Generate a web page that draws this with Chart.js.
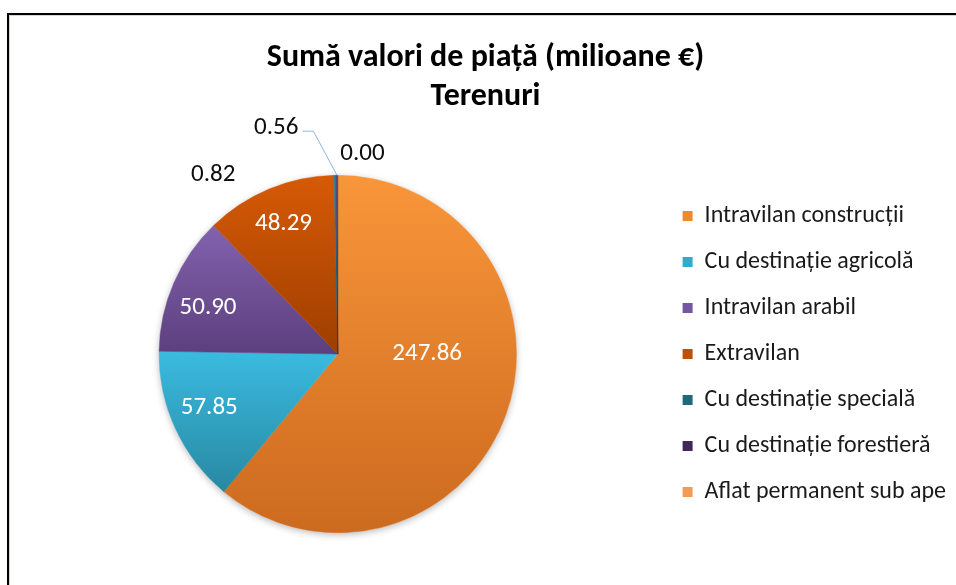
<!DOCTYPE html>
<html>
<head>
<meta charset="utf-8">
<title>Terenuri</title>
<script src="https://cdn.jsdelivr.net/npm/chart.js@4.4.1/dist/chart.umd.min.js"></script>
<style>
  html, body { margin: 0; padding: 0; background: #fff; }
  #wrap { position: relative; width: 956px; height: 585px; overflow: hidden; }
  #frame {
    position: absolute; left: 7px; top: 13px; width: 1000px; height: 620px;
    border-left: 2px solid #000; border-top: 2px solid #000;
    box-shadow: inset 1px 1px 0 #c9d7ee;
  }
  #pieChart { position: absolute; left: 0; top: 0; }
</style>
</head>
<body>
<div id="wrap">
  <div id="frame"></div>
  <canvas id="pieChart" width="956" height="585"></canvas>
</div>
<script>
// chart data
var categories = [
  "Intravilan construcții",
  "Cu destinație agricolă",
  "Intravilan arabil",
  "Extravilan",
  "Cu destinație specială",
  "Cu destinație forestieră",
  "Aflat permanent sub ape"
];
var values = [247.86, 57.85, 50.90, 48.29, 0.82, 0.56, 0.00];
var titleLines = ["Sumă valori de piață (milioane €)", "Terenuri"];

// styles (top colour, bottom colour of each slice gradient)
var sliceColors = [
  ["#f9963a", "#cc6a1f"],
  ["#3abbe0", "#2888a2"],
  ["#8262ae", "#5c3f7e"],
  ["#d65a06", "#9e3e00"],
  ["#2a7b92", "#1b5566"],
  ["#4b3468", "#34224a"],
  ["#f7a862", "#e0863f"]
];
var legendColors = ["#ee8a2e", "#34a9cc", "#7556a0", "#c04f04", "#22687c", "#40295a", "#f39b55"];
var fontFamily = "Calibri, Carlito, Lato, sans-serif";

Chart.defaults.font.family = fontFamily;

function sliceYRange(cy, r, a0, a1) {
  var ys = [cy, cy + r * Math.sin(a0), cy + r * Math.sin(a1)];
  [-Math.PI / 2, Math.PI / 2, 3 * Math.PI / 2].forEach(function (a) {
    if (a >= a0 && a <= a1) ys.push(cy + r * Math.sin(a));
  });
  return [Math.min.apply(null, ys), Math.max.apply(null, ys)];
}

// vertical gradient over each slice's own height, like the office chart
function sliceFill(context) {
  var i = context.dataIndex;
  var chart = context.chart;
  var area = chart.chartArea;
  var c = sliceColors[i];
  if (!area) return c[0];
  var cx = (area.left + area.right) / 2;
  var cy = (area.top + area.bottom) / 2;
  var r = Math.min(area.right - area.left, area.bottom - area.top) / 2;
  var total = values.reduce(function (s, v) { return s + v; }, 0);
  var before = 0;
  for (var k = 0; k < i; k++) before += values[k];
  var a0 = -Math.PI / 2 + 2 * Math.PI * before / total;
  var a1 = a0 + 2 * Math.PI * values[i] / total;
  var yr = sliceYRange(cy, r, a0, a1);
  if (yr[1] - yr[0] < 1) yr[1] = yr[0] + 1;
  var g = chart.ctx.createLinearGradient(0, yr[0], 0, yr[1]);
  g.addColorStop(0, c[0]);
  g.addColorStop(1, c[1]);
  return g;
}

// soft shadow under the whole pie
var pieShadow = {
  id: "pieShadow",
  beforeDatasetsDraw: function (chart) {
    var arc = chart.getDatasetMeta(0).data[0];
    if (!arc) return;
    var ctx = chart.ctx;
    ctx.save();
    ctx.shadowColor = "rgba(0,0,0,0.28)";
    ctx.shadowBlur = 7;
    ctx.shadowOffsetY = 2;
    ctx.fillStyle = "#fff";
    ctx.beginPath();
    ctx.arc(arc.x, arc.y, arc.outerRadius, 0, Math.PI * 2);
    ctx.fill();
    ctx.restore();
  }
};

// value labels, small slices get theirs outside
var valueLabels = {
  id: "valueLabels",
  afterDatasetsDraw: function (chart, args, opts) {
    var ctx = chart.ctx;
    var meta = chart.getDatasetMeta(0);
    ctx.save();
    ctx.font = opts.size + "px " + fontFamily;
    ctx.textAlign = "center";
    ctx.textBaseline = "middle";
    meta.data.forEach(function (arc, i) {
      var p = opts.placements[i];
      var midRaw = (arc.startAngle + arc.endAngle) / 2;
      var mid = midRaw + p.da * Math.PI / 180;
      var x = arc.x + Math.cos(mid) * arc.outerRadius * p.r;
      var y = arc.y + Math.sin(mid) * arc.outerRadius * p.r;
      var text = values[i].toFixed(2);
      if (p.leader) {
        var w = ctx.measureText(text).width;
        var sx = x + w / 2 + 4;
        var sy = y + 3;
        ctx.strokeStyle = "#8fb4e2";
        ctx.lineWidth = 1;
        ctx.beginPath();
        ctx.moveTo(sx, sy);
        ctx.lineTo(sx + 11, sy);
        ctx.lineTo(arc.x + Math.cos(midRaw) * arc.outerRadius, arc.y + Math.sin(midRaw) * arc.outerRadius);
        ctx.stroke();
      }
      ctx.fillStyle = p.r > 1 ? "#0d0d0d" : "#ffffff";
      ctx.fillText(text, x, y);
    });
    ctx.restore();
  }
};

var ctxPie = document.getElementById("pieChart").getContext("2d");

new Chart(ctxPie, {
  type: "pie",
  data: {
    labels: categories,
    datasets: [
      {
        data: values,
        backgroundColor: sliceFill,
        borderColor: sliceFill,
        borderWidth: 0.5
      }
    ]
  },
  options: {
    responsive: false,
    animation: false,
    devicePixelRatio: 1,
    layout: {
      padding: { left: 15, right: 0, top: 0, bottom: 52 }
    },
    plugins: {
      title: {
        display: true,
        text: titleLines,
        color: "#000",
        font: { size: 32, weight: "bold", lineHeight: 1.22 },
        padding: { top: 38.5, bottom: 58.5 }
      },
      legend: {
        position: "right",
        fullSize: false,
        labels: {
          color: "#1a1a1a",
          font: { size: 24 },
          boxWidth: 10,
          boxHeight: 10,
          padding: 22,
          generateLabels: function (chart) {
            var items = Chart.controllers.pie.overrides.plugins.legend.labels.generateLabels(chart);
            items.forEach(function (item, i) {
              item.fillStyle = legendColors[i];
              item.strokeStyle = legendColors[i];
              item.lineWidth = 0;
            });
            return items;
          }
        }
      },
      tooltip: { enabled: false },
      valueLabels: {
        size: 25,
        placements: [
          { r: 0.5, da: -20 },
          { r: 0.78, da: 2 },
          { r: 0.77, da: -4 },
          { r: 0.79, da: 0 },
          { r: 1.22, da: -34 },
          { r: 1.31, da: -15, leader: true },
          { r: 1.13, da: 7 }
        ]
      }
    }
  },
  plugins: [pieShadow, valueLabels]
});
</script>
</body>
</html>
